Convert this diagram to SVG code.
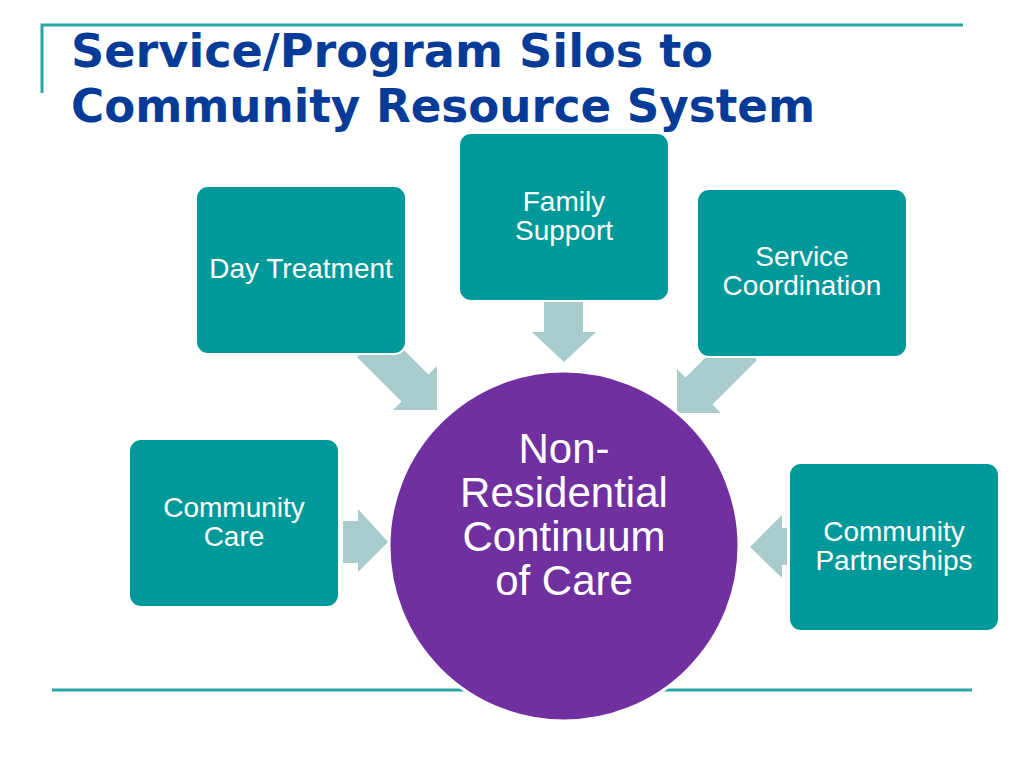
<svg xmlns="http://www.w3.org/2000/svg" width="1024" height="768" viewBox="0 0 1024 768">
<style>
.title{font-family:"DejaVu Sans",Verdana,sans-serif;font-weight:bold;font-size:46px;fill:#063B98}
.box{fill:#009999;stroke:#ffffff;stroke-width:2}
.bt{font-family:"Liberation Sans",Arial,sans-serif;font-size:28px;fill:#ffffff;text-anchor:middle}
.ct{font-family:"Liberation Sans",Arial,sans-serif;font-size:42px;fill:#ffffff;text-anchor:middle}
.arr{fill:#A8CCCB}
.rule{stroke:#2AA6A6;stroke-width:3;fill:none}
</style>
<rect width="1024" height="768" fill="#ffffff"/>
<path class="rule" d="M42,93 V25 H963"/>
<text class="title" x="71" y="67" textLength="642" lengthAdjust="spacingAndGlyphs">Service/Program Silos to</text>
<text class="title" x="71" y="122" textLength="744" lengthAdjust="spacingAndGlyphs">Community Resource System</text>
<line class="rule" x1="52" y1="690" x2="972" y2="690"/>
<g id="connectors">
<polygon class="arr" points="357,357 384,330 428.5,374.5 437,366 437,410 393,410 401.5,401.5"/>
<polygon class="arr" points="757,360 730,333 685.5,377.5 677,369 677,413 721,413 712.5,404.5"/>
<polygon class="arr" points="544,300 583,300 583,332 596,332 564,362 532,332 544,332"/>
<polygon class="arr" points="343,521 358,521 358,509 388,542 358,572 358,563 343,563"/>
<polygon class="arr" points="787,528 782,528 782,515 750,547 782,578 782,565 787,565"/>
</g>
<g id="family-support"><rect class="box" x="459" y="133" width="210" height="168" rx="12"/><text class="bt" x="564" y="211">Family</text><text class="bt" x="564" y="240">Support</text></g>
<g id="day-treatment"><rect class="box" x="196" y="186" width="210" height="168" rx="12"/><text class="bt" x="301" y="278">Day Treatment</text></g>
<g id="service-coordination"><rect class="box" x="697" y="189" width="210" height="168" rx="12"/><text class="bt" x="802" y="266">Service</text><text class="bt" x="802" y="295">Coordination</text></g>
<g id="community-care"><rect class="box" x="129" y="439" width="210" height="168" rx="12"/><text class="bt" x="234" y="517">Community</text><text class="bt" x="234" y="546">Care</text></g>
<g id="community-partnerships"><rect class="box" x="789" y="463" width="210" height="168" rx="12"/><text class="bt" x="894" y="541">Community</text><text class="bt" x="894" y="570">Partnerships</text></g>
<g id="center"><circle cx="564" cy="546" r="175" fill="#7030A0" stroke="#ffffff" stroke-width="3"/>
<text class="ct" x="564" y="463">Non-</text><text class="ct" x="564" y="507">Residential</text><text class="ct" x="564" y="551">Continuum</text><text class="ct" x="564" y="595">of Care</text></g>
</svg>
